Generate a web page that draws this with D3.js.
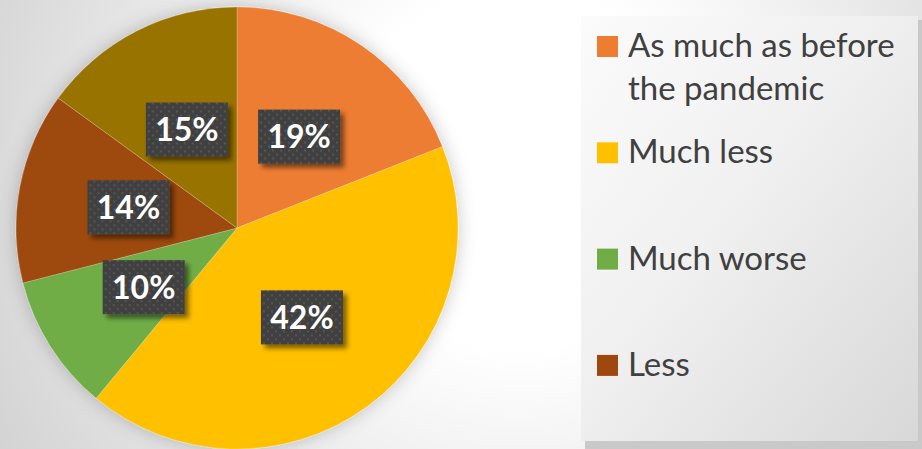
<!DOCTYPE html>
<html>
<head>
<meta charset="utf-8">
<script src="https://cdn.jsdelivr.net/npm/d3@7"></script>
<style>
  body { margin: 0; overflow: hidden; }
  svg { display: block; }
</style>
</head>
<body>
<div id="chart"></div>
<script>
// slices, clockwise from 12 o'clock
var categories = ["As much as before the pandemic", "Much less", "Much worse", "Less", "More"];
var shares = [19, 42, 10, 14, 15];
var colors = ["#ED7D31", "#FFC000", "#70AD47", "#9E480E", "#997300"];
// legend text split in lines as in the picture; the last entry falls below the panel
var legendLines = [["As much as before", "the pandemic"], ["Much less"], ["Much worse"], ["Less"]];

var width = 922,
    height = 449,
    cx = 237,
    cy = 228,
    radius = 221;

var svg = d3.select("#chart").append("svg")
    .attr("width", width)
    .attr("height", height);

var defs = svg.append("defs");

// page background
var bg = defs.append("radialGradient")
    .attr("id", "bg")
    .attr("gradientUnits", "userSpaceOnUse")
    .attr("cx", 520).attr("cy", 170).attr("r", 600);
bg.append("stop").attr("offset", "0.3").attr("stop-color", "#ffffff");
bg.append("stop").attr("offset", "1").attr("stop-color", "#d2d2d2");

// legend panel background
var lg = defs.append("linearGradient")
    .attr("id", "legendBg")
    .attr("x1", "0").attr("y1", "0").attr("x2", "1").attr("y2", "1");
lg.append("stop").attr("offset", "0").attr("stop-color", "#fbfbfb");
lg.append("stop").attr("offset", "0.45").attr("stop-color", "#f0f0f0");
lg.append("stop").attr("offset", "1").attr("stop-color", "#d8d8d8");

var pieShadow = defs.append("filter")
    .attr("id", "pieShadow")
    .attr("x", "-20%").attr("y", "-20%").attr("width", "140%").attr("height", "140%");
pieShadow.append("feDropShadow")
    .attr("dx", 0).attr("dy", 0).attr("stdDeviation", 9)
    .attr("flood-color", "#000").attr("flood-opacity", 0.22);

var boxShadow = defs.append("filter")
    .attr("id", "boxShadow")
    .attr("x", "-20%").attr("y", "-20%").attr("width", "150%").attr("height", "150%");
boxShadow.append("feDropShadow")
    .attr("dx", 4).attr("dy", 4).attr("stdDeviation", 2.5)
    .attr("flood-color", "#000").attr("flood-opacity", 0.5);

var dots = defs.append("pattern")
    .attr("id", "dots")
    .attr("patternUnits", "userSpaceOnUse")
    .attr("width", 8).attr("height", 8);
dots.append("rect").attr("width", 8).attr("height", 8).attr("fill", "#404040");
dots.append("rect").attr("x", 1).attr("y", 1).attr("width", 2).attr("height", 2).attr("fill", "#565656");
dots.append("rect").attr("x", 5).attr("y", 5).attr("width", 2).attr("height", 2).attr("fill", "#565656");

svg.append("rect")
    .attr("width", width)
    .attr("height", height)
    .attr("fill", "url(#bg)");

// legend panel with its shadow
svg.append("rect")
    .attr("x", 585).attr("y", 20)
    .attr("width", 337).attr("height", 429)
    .attr("fill", "#c9c9c9");
svg.append("rect")
    .attr("x", 581).attr("y", 16)
    .attr("width", 337).attr("height", 425)
    .attr("fill", "url(#legendBg)");

// pie
var pie = d3.pie()
    .sort(null)
    .value(function(d) { return d; });

var arc = d3.arc()
    .innerRadius(0)
    .outerRadius(radius);

var arcs = pie(shares);

var g = svg.append("g")
    .attr("transform", "translate(" + cx + "," + cy + ")");

g.append("g")
    .attr("filter", "url(#pieShadow)")
    .selectAll("path")
    .data(arcs)
    .enter()
    .append("path")
    .attr("d", arc)
    .attr("fill", function(d, i) { return colors[i]; })
    .attr("stroke", "rgba(255,255,255,0.35)")
    .attr("stroke-width", 0.6);

// data labels
var boxW = 82, boxH = 54;
var labels = g.selectAll("g.label")
    .data(arcs)
    .enter()
    .append("g")
    .attr("class", "label")
    .attr("transform", function(d) {
        var c = arc.centroid(d);
        return "translate(" + c[0] + "," + c[1] + ")";
    });

labels.append("rect")
    .attr("x", -boxW / 2)
    .attr("y", -boxH / 2)
    .attr("width", boxW)
    .attr("height", boxH)
    .attr("fill", "url(#dots)")
    .attr("filter", "url(#boxShadow)");

labels.append("text")
    .attr("text-anchor", "middle")
    .attr("dy", "0.37em")
    .attr("fill", "#ffffff")
    .attr("font-family", "Lato, 'Open Sans', sans-serif")
    .attr("font-weight", "bold")
    .attr("font-size", 32)
    .text(function(d) { return d.data + "%"; });

// legend
var legend = svg.append("g");

var items = legend.selectAll("g.item")
    .data(legendLines)
    .enter()
    .append("g")
    .attr("class", "item")
    .attr("transform", function(d, i) {
        return "translate(597," + (57 + i * 106.3) + ")";
    });

items.append("rect")
    .attr("x", 0)
    .attr("y", -21)
    .attr("width", 21)
    .attr("height", 21)
    .attr("fill", function(d, i) { return colors[i]; });

items.append("text")
    .attr("x", 31)
    .attr("fill", "#404040")
    .attr("font-family", "Lato, 'Open Sans', sans-serif")
    .attr("font-size", 33)
    .selectAll("tspan")
    .data(function(d) { return d; })
    .enter()
    .append("tspan")
    .attr("x", 31)
    .attr("y", function(d, j) { return j * 43; })
    .text(function(d) { return d; });
</script>
</body>
</html>
